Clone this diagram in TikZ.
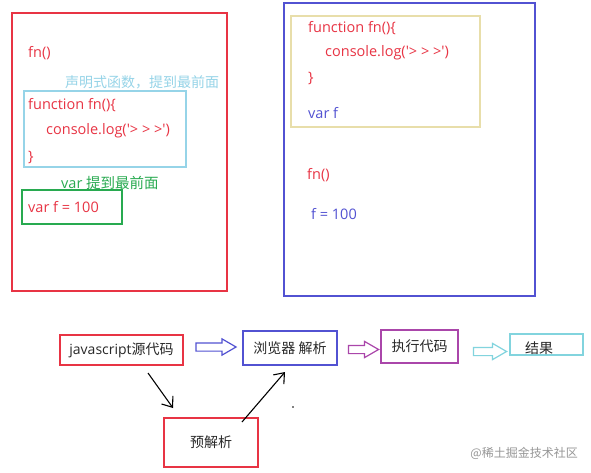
\documentclass[tikz,border=0pt]{standalone}
\usepackage{fontspec}
\setmainfont{Open Sans}[Ligatures=TeXOff]
\newfontfamily\cjk{Noto Sans CJK SC}
\usetikzlibrary{arrows.meta,shapes.arrows}
\definecolor{cred}{RGB}{232,52,68}
\definecolor{cblue}{RGB}{82,82,210}
\definecolor{clblue}{RGB}{150,212,232}
\definecolor{cgreen}{RGB}{40,170,80}
\definecolor{cyel}{RGB}{232,222,170}
\definecolor{cpurp}{RGB}{170,70,170}
\definecolor{ccyan}{RGB}{130,212,222}
\definecolor{ctext}{RGB}{40,40,40}
\definecolor{cwm}{RGB}{150,150,150}
\tikzset{
  code/.style={anchor=west,inner sep=0pt,font=\fontsize{14.5}{16}\selectfont},
  note/.style={anchor=west,inner sep=0pt,font=\fontsize{14}{16}\selectfont\cjk},
  flowbox/.style={draw,line width=1.2pt,inner sep=0pt,font=\fontsize{14}{16}\selectfont,text=ctext},
  hollow/.style={single arrow,draw,line width=1.2pt,single arrow head extend=4pt,single arrow tip angle=60,
    minimum height=#1,inner sep=0pt,text height=3.5pt,text depth=3.5pt,text width=0pt},
  blk/.style={draw=black,line width=1.1pt,-{Straight Barb[length=9pt,width=14pt,line width=1.1pt]}}
}
\begin{document}
\begin{tikzpicture}[x=1pt,y=-1pt]
\useasboundingbox[fill=white] (0,0) rectangle (591,473);
% left red panel
\draw[cred,line width=1.2pt] (12,13) rectangle (227,291);
\node[code,text=cred] (lfn) at (28,53) {fn()};
\node[note,text=clblue] (lnote) at (65,82) {声明式函数，提到最前面};
\draw[clblue,line width=1.2pt] (24,91) rectangle (186,167);
\node[code,text=cred] (lf1) at (28,105) {function fn()\{};
\node[code,text=cred] (lf2) at (46,131) {console.log('> > >')};
\node[code,text=cred] (lf3) at (28,157) {\}};
\node[code,text=cgreen] (lvnote) at (61,183) {var {\cjk 提到最前面}};
\draw[cgreen,line width=1.2pt] (22,190) rectangle (122,224);
\node[code,text=cred] (lvar) at (28,207) {var f = 100};
% right blue panel
\draw[cblue,line width=1.2pt] (284,3) rectangle (535,296);
\draw[cyel,line width=1.2pt] (291,16) rectangle (480,127);
\node[code,text=cred] (rf1) at (308,28) {function fn()\{};
\node[code,text=cred] (rf2) at (325,53) {console.log('> > >')};
\node[code,text=cred] (rf3) at (308,78) {\}};
\node[code,text=cblue] (rvar) at (308,113) {var f};
\node[code,text=cred] (rfn) at (307,175) {fn()};
\node[code,text=cblue] (rf) at (311,214) {f = 100};
% flow
\node[flowbox,draw=cred,minimum width=123pt,minimum height=30pt] (src) at (121.5,350) {javascript{\cjk 源代码}};
\node[flowbox,draw=cblue,minimum width=94pt,minimum height=34pt] (parse) at (290,348) {\cjk 浏览器 解析};
\node[flowbox,draw=cpurp,minimum width=77pt,minimum height=33pt] (exec) at (419.5,346.5) {\cjk 执行代码};
\node[flowbox,draw=ccyan,minimum width=73pt,minimum height=21pt] (res) at (546.5,344.5) {};
\node[anchor=center,inner sep=0pt,text=ctext,font=\fontsize{14}{16}\selectfont\cjk] (restext) at (539,348.5) {结果};
\node[flowbox,draw=cred,minimum width=94pt,minimum height=49pt] (pre) at (211,442.5) {\cjk 预解析};
\node[hollow=40pt,draw=cblue] (a1) at (212.5,347) {};
\node[hollow=30pt,draw=cpurp] (a2) at (360,349.5) {};
\node[hollow=33pt,draw=ccyan] (a3) at (486.5,351.5) {};
\coordinate (s1) at (148,373);
\coordinate (e1) at (173,408);
\draw[blk] (s1) -- (e1);
\coordinate (s2) at (242,422);
\coordinate (e2) at (285,372);
\draw[blk] (s2) -- (e2);
\node[circle,fill=black,inner sep=0.7pt] (dot) at (293,407) {};
\node[anchor=east,inner sep=0pt,text=cwm,font=\fontsize{12}{14}\selectfont\cjk] (wm) at (578,453) {@稀土掘金技术社区};
\end{tikzpicture}
\end{document}
